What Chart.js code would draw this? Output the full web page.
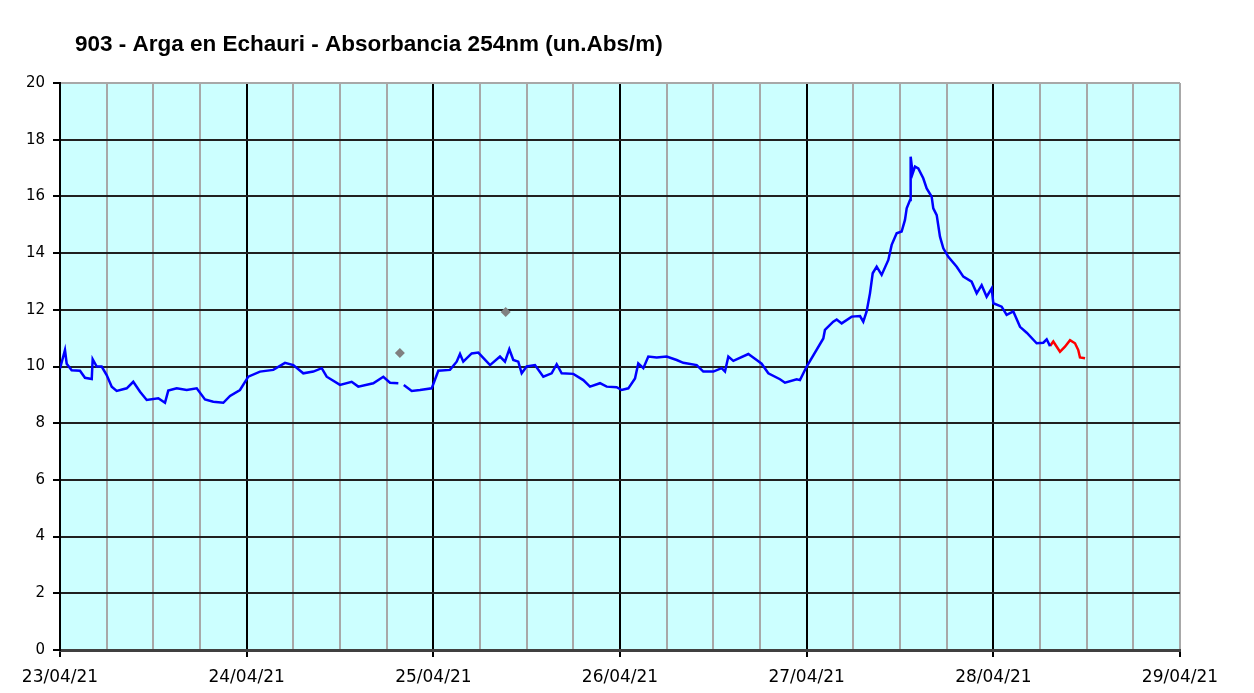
<!DOCTYPE html>
<html>
<head>
<meta charset="utf-8">
<script src="https://cdn.jsdelivr.net/npm/chart.js@4.4.1/dist/chart.umd.min.js"></script>
<style>
html,body{margin:0;padding:0;background:#fff;}
canvas{display:block;}
</style>
</head>
<body>
<canvas id="c" width="1254" height="693"></canvas>
<script>
const chartTitle = '903 - Arga en Echauri - Absorbancia 254nm (un.Abs/m)';
const dayLabels = ['23/04/21','24/04/21','25/04/21','26/04/21','27/04/21','28/04/21','29/04/21'];
const yTicks = [0,2,4,6,8,10,12,14,16,18,20];

// hours since 23/04/21 00:00
const blueHours = [0,0.64,0.86,1.5,2.57,3.21,4.08,4.2,4.72,5.36,6.0,6.65,7.29,8.58,9.42,10.29,11.15,12.64,13.5,13.92,15.0,16.29,17.58,18.64,19.71,21.0,21.86,23.14,24.21,25.71,27.42,28.93,30.0,31.28,32.57,33.65,34.29,36.0,37.5,38.35,40.28,41.57,42.43,43.5,44.0,44.2,45.22,46.29,47.79,48.64,50.14,51.0,51.43,51.85,52.93,53.78,55.29,56.57,57.21,57.77,58.28,58.92,59.36,60.0,61.07,62.14,63.21,63.86,64.5,66.0,67.28,68.14,69.43,70.29,71.57,72.21,73.07,73.93,74.35,75.0,75.64,76.72,78.0,79.29,80.14,81.86,82.71,84.0,85.07,85.5,85.93,86.57,88.5,89.57,90.21,91.07,92.57,93.21,94.72,95.14,96.0,98.14,98.35,99.42,99.86,100.5,101.79,102.86,103.28,103.71,104.14,104.49,105.0,105.64,106.5,106.93,107.57,108.21,108.64,108.86,109.29,109.37,109.63,109.93,110.35,110.99,111.43,112.07,112.28,112.72,113.14,113.57,114.21,115.29,116.14,117.21,117.86,118.5,119.14,119.79,120.0,121.07,121.71,122.57,123.43,124.29,125.57,126.43,126.86,127.29];
const blueValues = [9.93,10.58,10.1,9.87,9.85,9.6,9.56,10.26,10.0,10.0,9.7,9.29,9.14,9.23,9.46,9.11,8.82,8.88,8.72,9.15,9.23,9.17,9.23,8.84,8.76,8.72,8.96,9.17,9.64,9.82,9.88,10.13,10.05,9.76,9.82,9.94,9.64,9.35,9.46,9.29,9.41,9.64,9.43,9.41,null,9.35,9.14,9.17,9.23,9.85,9.88,10.17,10.44,10.17,10.46,10.49,10.05,10.35,10.17,10.61,10.23,10.17,9.76,10.0,10.05,9.64,9.76,10.08,9.76,9.74,9.52,9.29,9.41,9.29,9.27,9.17,9.23,9.58,10.11,9.94,10.35,10.32,10.35,10.23,10.13,10.05,9.82,9.82,9.94,9.82,10.35,10.2,10.44,10.23,10.1,9.76,9.55,9.43,9.55,9.52,10.0,10.99,11.29,11.58,11.66,11.52,11.76,11.78,11.58,11.94,12.58,13.29,13.52,13.23,13.76,14.29,14.7,14.76,15.17,15.58,15.87,17.4,16.81,17.05,16.99,16.64,16.28,15.99,15.58,15.34,14.58,14.17,13.87,13.52,13.17,12.99,12.58,12.87,12.46,12.76,12.23,12.11,11.82,11.94,11.4,11.19,10.82,10.84,10.96,10.72];
const redHours = [127.29,127.71,128.57,129.21,129.86,130.5,130.92,131.14,131.79];
const redValues = [10.72,10.88,10.52,10.7,10.93,10.82,10.58,10.32,10.29];
const markerHours = [43.7,57.3];
const markerValues = [10.48,11.92];

const toPts = (xs, ys) => xs.map((x, i) => ({x: x, y: ys[i]}));

const bgPlugin = {
  id: 'bg',
  beforeDraw(chart) {
    const {ctx, chartArea: a} = chart;
    ctx.save();
    ctx.fillStyle = '#CCFFFF';
    ctx.fillRect(a.left, a.top, a.right - a.left, a.bottom - a.top);
    ctx.restore();
  },
  afterDraw(chart) {
    const ctx = chart.ctx;
    ctx.save();
    ctx.fillStyle = '#000';
    ctx.font = 'bold 22.5px "Liberation Sans", Arial, sans-serif';
    ctx.textAlign = 'left';
    ctx.textBaseline = 'middle';
    ctx.fillText(chartTitle, 75, 45);
    ctx.restore();
  }
};

new Chart(document.getElementById('c'), {
  type: 'line',
  data: {
    datasets: [
      {data: toPts(blueHours, blueValues), borderColor: '#0000FF', borderWidth: 2.5, pointRadius: 0, tension: 0, spanGaps: false},
      {data: toPts(redHours, redValues), borderColor: '#FF0000', borderWidth: 2.5, pointRadius: 0, tension: 0},
      {data: toPts(markerHours, markerValues), showLine: false, pointStyle: 'rectRot', pointRadius: 5, pointBackgroundColor: '#808080', pointBorderColor: '#808080', borderWidth: 0}
    ]
  },
  options: {
    responsive: false,
    animation: false,
    layout: {padding: {top: 83, right: 74, left: 0, bottom: 0}},
    plugins: {legend: {display: false}, tooltip: {enabled: false}, title: {display: false}},
    scales: {
      x: {
        type: 'linear', min: 0, max: 144,
        afterFit(s) { s.height = 43; },
        afterBuildTicks(s) { const t = []; for (let v = 0; v <= 144; v += 6) t.push({value: v}); s.ticks = t; },
        ticks: {
          autoSkip: false, maxRotation: 0, padding: 10, color: '#000',
          font: {family: '"DejaVu Sans", Verdana, sans-serif', size: 17},
          callback: (v) => (v % 24 === 0 ? dayLabels[v / 24] : '')
        },
        grid: {
          color: (c) => (c.tick && c.tick.value % 24 === 0 && c.tick.value !== 144 ? '#000000' : '#A8A8A8'),
          lineWidth: 2,
          tickLength: 7,
          tickColor: (c) => (c.tick && c.tick.value % 24 === 0 ? '#000000' : 'rgba(0,0,0,0)')
        },
        border: {color: '#404040', width: 3}
      },
      y: {
        min: 0, max: 20,
        afterFit(s) { s.width = 60; },
        afterBuildTicks(s) { s.ticks = yTicks.map(v => ({value: v})); },
        ticks: {
          padding: 8, color: '#000',
          font: {family: '"DejaVu Sans", Verdana, sans-serif', size: 15}
        },
        grid: {
          color: (c) => (c.tick && c.tick.value === 20 ? '#A8A8A8' : '#202020'),
          lineWidth: 2,
          tickLength: 7,
          tickColor: '#000000'
        },
        border: {color: '#000000', width: 2}
      }
    }
  },
  plugins: [bgPlugin]
});
</script>
</body>
</html>
